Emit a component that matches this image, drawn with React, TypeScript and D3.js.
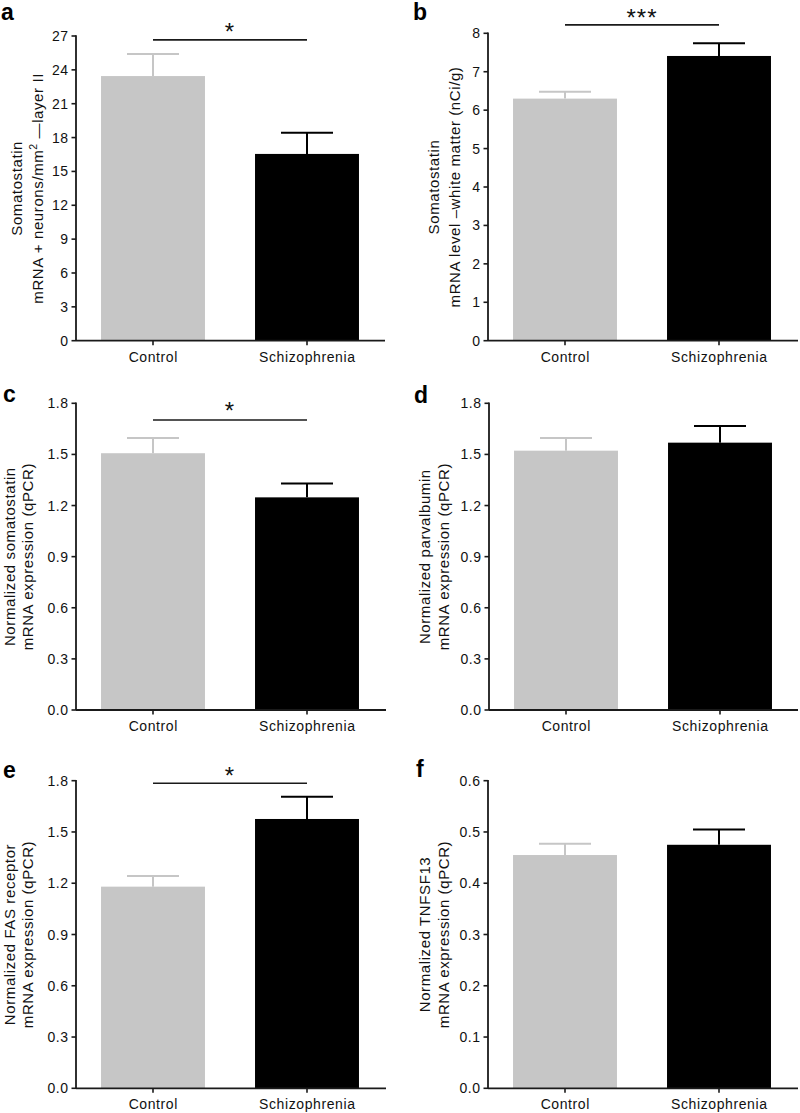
import React from "react";
import * as d3 from "d3";

// ---------- DATA ----------
const categories = ["Control", "Schizophrenia"];
const panelLetters = ["a", "b", "c", "d", "e", "f"];

const meansA = [23.45, 16.55];
const errorsA = [1.95, 1.88];
const meansB = [6.3, 7.41];
const errorsB = [0.18, 0.33];
const meansC = [1.507, 1.248];
const errorsC = [0.089, 0.082];
const meansD = [1.522, 1.569];
const errorsD = [0.074, 0.098];
const meansE = [1.18, 1.576];
const errorsE = [0.062, 0.13];
const meansF = [0.455, 0.475];
const errorsF = [0.022, 0.03];

const yMaxes = [27, 8, 1.8, 1.8, 1.8, 0.6];
const yTickSteps = [3, 1, 0.3, 0.3, 0.3, 0.1];
const yTickFormats = ["d", "d", ".1f", ".1f", ".1f", ".1f"];

const yLabels = [
  ["Somatostatin", "mRNA + neurons/mm² —layer II"],
  ["Somatostatin", "mRNA level –white matter (nCi/g)"],
  ["Normalized somatostatin", "mRNA expression (qPCR)"],
  ["Normalized parvalbumin", "mRNA expression (qPCR)"],
  ["Normalized FAS receptor", "mRNA expression (qPCR)"],
  ["Normalized TNFSF13", "mRNA expression (qPCR)"],
];

const sigMarks = ["*", "***", "*", "", "*", ""];
const sigLevels = [26.65, 8.22, 1.702, null, 1.785, null];

const allMeans = [meansA, meansB, meansC, meansD, meansE, meansF];
const allErrors = [errorsA, errorsB, errorsC, errorsD, errorsE, errorsF];

// ---------- LAYOUT / STYLE ----------
const W = 800;
const H = 1113;
const FONT = "'Liberation Sans', Arial, Helvetica, sans-serif";
const barColors = ["#c6c6c6", "#000000"];
const ink = "#1a1a1a";

const layout = [
  { ax: 76, right: 384, end: 385, top: 36, zero: 340.7, lab: [54, 33], letter: [1, 20], starOff: 14 },
  { ax: 488, right: 796, end: 798, top: 33.3, zero: 340.7, lab: [49, 28], letter: [413, 20], starOff: 13 },
  { ax: 76, right: 384, end: 386, top: 403.3, zero: 710, lab: [61, 43.5], letter: [3, 402], starOff: 15 },
  { ax: 489, right: 797, end: 798, top: 403.3, zero: 710, lab: [59, 40], letter: [414, 403], starOff: 0 },
  { ax: 76, right: 384, end: 386, top: 780.7, zero: 1088.3, lab: [61, 43], letter: [3, 778], starOff: 13 },
  { ax: 488, right: 796, end: 798, top: 780.7, zero: 1088.3, lab: [58, 39], letter: [416, 777], starOff: 0 },
];

function LabelText({ s }: { s: string }) {
  if (!s.includes("²")) return <>{s}</>;
  const [a, b] = s.split("²");
  return (
    <>
      {a}
      <tspan baselineShift="super" fontSize={10.5}>2</tspan>
      {b}
    </>
  );
}

function Panel({ i }: { i: number }) {
  const L = layout[i];
  const means = allMeans[i];
  const errs = allErrors[i];
  const x = d3
    .scaleBand<string>()
    .domain(categories)
    .range([L.ax, L.right])
    .paddingInner(0.325)
    .paddingOuter(0.1625);
  const y = d3.scaleLinear().domain([0, yMaxes[i]]).range([L.zero, L.top]);
  const step = yTickSteps[i];
  const ticks = d3.range(0, yMaxes[i] + step / 2, step);
  const fmt = d3.format(yTickFormats[i]);
  const midY = (L.top + L.zero) / 2;
  const capHalf = 26;

  return (
    <g fontFamily={FONT}>
      {/* panel letter */}
      <text x={L.letter[0]} y={L.letter[1]} fontSize={23} fontWeight="bold" fill="#000">
        {panelLetters[i]}
      </text>

      {/* bars */}
      {categories.map((c, k) => (
        <rect
          key={c}
          x={x(c)}
          y={y(means[k])}
          width={x.bandwidth()}
          height={L.zero - y(means[k])}
          fill={barColors[k]}
        />
      ))}

      {/* error bars */}
      {categories.map((c, k) => {
        const cx = (x(c) as number) + x.bandwidth() / 2;
        const yt = y(means[k] + errs[k]);
        return (
          <g key={c} stroke={barColors[k]} strokeWidth={2}>
            <line x1={cx} x2={cx} y1={y(means[k])} y2={yt} />
            <line x1={cx - capHalf} x2={cx + capHalf} y1={yt} y2={yt} />
          </g>
        );
      })}

      {/* y axis */}
      <line x1={L.ax} x2={L.ax} y1={L.top - 0.8} y2={L.zero} stroke={ink} strokeWidth={1.8} />
      {ticks.map((t) => (
        <g key={t}>
          <line x1={L.ax - 4.5} x2={L.ax} y1={y(t)} y2={y(t)} stroke={ink} strokeWidth={1.6} />
          <text
            x={L.ax - 7.5}
            y={y(t)}
            dy="0.36em"
            textAnchor="end"
            fontSize={14}
            letterSpacing={0.5}
            fill="#111"
          >
            {fmt(t)}
          </text>
        </g>
      ))}

      {/* x axis */}
      <line x1={L.ax} x2={L.end} y1={L.zero} y2={L.zero} stroke={ink} strokeWidth={1.8} />
      {categories.map((c) => {
        const cx = (x(c) as number) + x.bandwidth() / 2;
        return (
          <g key={c}>
            <line x1={cx} x2={cx} y1={L.zero} y2={L.zero + 4.5} stroke={ink} strokeWidth={1.6} />
            <text x={cx + 0.3} y={L.zero + 21} textAnchor="middle" fontSize={14} letterSpacing={0.6} fill="#111">
              {c}
            </text>
          </g>
        );
      })}

      {/* y label */}
      {yLabels[i].map((s, k) => (
        <text
          key={k}
          transform={`translate(${L.ax - L.lab[k]},${midY}) rotate(-90)`}
          textAnchor="middle"
          fontSize={15}
          letterSpacing={0.6}
          fill="#111"
        >
          <LabelText s={s} />
        </text>
      ))}

      {/* significance */}
      {sigLevels[i] !== null && (
        <g>
          {(() => {
            const ly = y(sigLevels[i] as number);
            const c0 = (x(categories[0]) as number) + x.bandwidth() / 2;
            const c1 = (x(categories[1]) as number) + x.bandwidth() / 2;
            return (
              <>
                <line x1={c0} x2={c1} y1={ly} y2={ly} stroke={ink} strokeWidth={1.7} />
                <text
                  x={(c0 + c1) / 2}
                  y={ly - L.starOff + 0.587 * 24}
                  textAnchor="middle"
                  fontSize={24}
                  letterSpacing={1}
                  fill="#111"
                >
                  {sigMarks[i]}
                </text>
              </>
            );
          })()}
        </g>
      )}
    </g>
  );
}

export default function App() {
  return (
    <svg
      width={W}
      height={H}
      viewBox={`0 0 ${W} ${H}`}
      style={{ position: "absolute", left: 0, top: 0, background: "#fff" }}
    >
      <rect x={0} y={0} width={W} height={H} fill="#fff" />
      {panelLetters.map((_, i) => (
        <Panel key={i} i={i} />
      ))}
    </svg>
  );
}
